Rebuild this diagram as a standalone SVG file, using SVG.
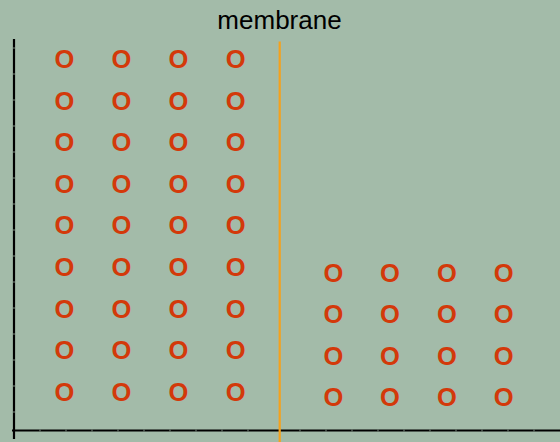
<svg xmlns="http://www.w3.org/2000/svg" width="560" height="442" viewBox="0 0 560 442">
<style>
.o{font-family:"Liberation Sans",Arial,sans-serif;font-weight:bold;font-size:25.5px;fill:#D3390A;text-anchor:middle}
.lbl{font-family:"Liberation Sans",Arial,sans-serif;font-size:26px;fill:#000;text-anchor:middle}
.ax{stroke:#000;stroke-width:2.2}
.tk{stroke:#7d8d80;stroke-width:1}
</style>
<rect width="560" height="442" fill="#A3BBA9"/>
<g id="axes">
<line class="ax" x1="14" y1="39" x2="14" y2="439"/>
<line class="ax" x1="12" y1="430.5" x2="560" y2="430.5"/>
<path class="tk" d="M40,429.5v2M66,429.5v2M92,429.5v2M118,429.5v2M144,429.5v2M170,429.5v2M196,429.5v2M222,429.5v2M248,429.5v2M300,429.5v2M326,429.5v2M352,429.5v2M378,429.5v2M404,429.5v2M430,429.5v2M456,429.5v2M482,429.5v2M508,429.5v2M534,429.5v2M13,412h2M13,386h2M13,360h2M13,334h2M13,308h2M13,282h2M13,256h2M13,230h2M13,204h2M13,178h2M13,152h2M13,126h2M13,100h2M13,74h2M13,48h2"/>
</g>
<g id="membrane">
<line x1="279.7" y1="41.5" x2="279.7" y2="442" stroke="#F5A11C" stroke-width="2.2"/>
<text class="lbl" x="279.5" y="29.3">membrane</text>
</g>
<g id="left">
<text class="o" x="64.5" y="68">O</text><text class="o" x="121.5" y="68">O</text><text class="o" x="178.5" y="68">O</text><text class="o" x="235.7" y="68">O</text>
<text class="o" x="64.5" y="109.6">O</text><text class="o" x="121.5" y="109.6">O</text><text class="o" x="178.5" y="109.6">O</text><text class="o" x="235.7" y="109.6">O</text>
<text class="o" x="64.5" y="151.2">O</text><text class="o" x="121.5" y="151.2">O</text><text class="o" x="178.5" y="151.2">O</text><text class="o" x="235.7" y="151.2">O</text>
<text class="o" x="64.5" y="192.8">O</text><text class="o" x="121.5" y="192.8">O</text><text class="o" x="178.5" y="192.8">O</text><text class="o" x="235.7" y="192.8">O</text>
<text class="o" x="64.5" y="234.4">O</text><text class="o" x="121.5" y="234.4">O</text><text class="o" x="178.5" y="234.4">O</text><text class="o" x="235.7" y="234.4">O</text>
<text class="o" x="64.5" y="276">O</text><text class="o" x="121.5" y="276">O</text><text class="o" x="178.5" y="276">O</text><text class="o" x="235.7" y="276">O</text>
<text class="o" x="64.5" y="317.6">O</text><text class="o" x="121.5" y="317.6">O</text><text class="o" x="178.5" y="317.6">O</text><text class="o" x="235.7" y="317.6">O</text>
<text class="o" x="64.5" y="359.2">O</text><text class="o" x="121.5" y="359.2">O</text><text class="o" x="178.5" y="359.2">O</text><text class="o" x="235.7" y="359.2">O</text>
<text class="o" x="64.5" y="400.8">O</text><text class="o" x="121.5" y="400.8">O</text><text class="o" x="178.5" y="400.8">O</text><text class="o" x="235.7" y="400.8">O</text>
</g>
<g id="right">
<text class="o" x="333.3" y="281.7">O</text><text class="o" x="390" y="281.7">O</text><text class="o" x="446.8" y="281.7">O</text><text class="o" x="503.6" y="281.7">O</text>
<text class="o" x="333.3" y="323.1">O</text><text class="o" x="390" y="323.1">O</text><text class="o" x="446.8" y="323.1">O</text><text class="o" x="503.6" y="323.1">O</text>
<text class="o" x="333.3" y="364.5">O</text><text class="o" x="390" y="364.5">O</text><text class="o" x="446.8" y="364.5">O</text><text class="o" x="503.6" y="364.5">O</text>
<text class="o" x="333.3" y="405.9">O</text><text class="o" x="390" y="405.9">O</text><text class="o" x="446.8" y="405.9">O</text><text class="o" x="503.6" y="405.9">O</text>
</g>
</svg>
